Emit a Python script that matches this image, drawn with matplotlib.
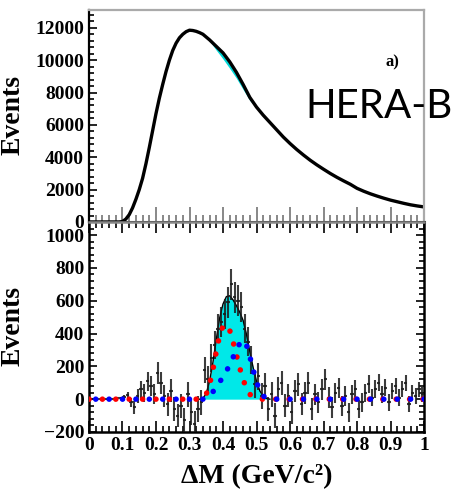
import numpy as np
import matplotlib.pyplot as plt
from matplotlib.ticker import MultipleLocator, AutoMinorLocator

# upper panel: mass spectrum
mass_x = [0.00, 0.02, 0.04, 0.06, 0.08, 0.09, 0.10, 0.11, 0.12, 0.13,
          0.14, 0.15, 0.16, 0.17, 0.18, 0.19, 0.20, 0.21, 0.22, 0.23,
          0.24, 0.25, 0.26, 0.27, 0.28, 0.29, 0.30, 0.31, 0.32, 0.33,
          0.34, 0.36, 0.38, 0.40, 0.42, 0.44, 0.46, 0.48, 0.50, 0.52,
          0.54, 0.56, 0.58, 0.60, 0.62, 0.64, 0.66, 0.68, 0.70, 0.72,
          0.74, 0.76, 0.78, 0.80, 0.82, 0.84, 0.86, 0.88, 0.90, 0.92,
          0.94, 0.96, 0.98, 1.00]
mass_events = [0, 0, 0, 0, 0, 0, 30, 180, 450, 870,
               1400, 2000, 2700, 3600, 4600, 5650, 6700, 7650, 8500, 9300,
               10000, 10600, 11050, 11380, 11600, 11760, 11850, 11830, 11780, 11700,
               11600, 11250, 10850, 10450, 9900, 9250, 8500, 7700, 7100, 6600,
               6150, 5700, 5250, 4850, 4480, 4140, 3820, 3530, 3260, 3000,
               2760, 2540, 2330, 2080, 1900, 1740, 1600, 1470, 1350, 1250,
               1150, 1060, 990, 930]

# signal components (fit), 0.01 GeV steps
sig_x = [0.33, 0.34, 0.35, 0.36, 0.37, 0.38, 0.39, 0.40, 0.41, 0.42, 0.43,
         0.44, 0.45, 0.46, 0.47, 0.48, 0.49, 0.50, 0.51, 0.52, 0.53, 0.54]
sig_red = [0, 5, 30, 90, 180, 290, 390, 445, 455, 420, 350,
           270, 190, 120, 65, 30, 12, 4, 0, 0, 0, 0]
sig_blue = [0, 0, 5, 20, 45, 75, 105, 135, 170, 210, 255,
            300, 340, 360, 330, 260, 180, 105, 50, 20, 5, 0]

# lower panel: background-subtracted events, 100 bins of 0.01
res_x = np.arange(100) * 0.01 + 0.005
res_events = [0, 0, 0, 0, 0, 0, 2, 3, 5, 8,
              15, 25, -20, -50, 20, 60, 40, 110, 80, 30,
              160, 100, 20, -30, 50, -60, -100, -40, -130, 30,
              -80, -150, -60, -20, 180, 120, 250, 330, 430, 470,
              520, 590, 700, 620, 600, 560, 430, 350, 240, 90,
              140, 20, 80, -60, 30, -100, 60, 100, -40, 20,
              -80, 50, 90, -30, 40, 100, -60, 30, -20, 60,
              120, 10, -50, 40, 70, -40, 20, -80, 30, 60,
              -60, -20, 40, 90, 10, 60, 100, 30, 70, -20,
              50, 80, 10, 60, 100, -30, 40, 20, 60, 30]
res_err = [2, 2, 2, 2, 3, 3, 4, 5, 6, 8,
           12, 18, 28, 38, 45, 50, 55, 58, 60, 62,
           65, 66, 68, 70, 70, 72, 72, 74, 74, 75,
           76, 76, 78, 78, 80, 82, 84, 86, 88, 90,
           92, 94, 96, 95, 94, 92, 90, 88, 86, 84,
           82, 80, 78, 76, 75, 74, 73, 72, 71, 70,
           70, 69, 68, 68, 67, 66, 66, 65, 64, 64,
           63, 62, 62, 61, 60, 60, 59, 58, 58, 57,
           56, 56, 55, 55, 54, 54, 53, 52, 52, 51,
           50, 50, 49, 49, 48, 48, 47, 47, 46, 46]

x_labels = ["0", "0.1", "0.2", "0.3", "0.4", "0.5", "0.6", "0.7",
            "0.8", "0.9", "1"]

serif = {"family": "Liberation Serif", "weight": "bold"}

fig = plt.figure(figsize=(4.55, 4.91), dpi=100)
ax1 = fig.add_axes([0.1956, 0.5479, 0.7363, 0.4318])
ax2 = fig.add_axes([0.1956, 0.1202, 0.7363, 0.4277])

sig_x = np.array(sig_x)
sig_tot = np.array(sig_red) + np.array(sig_blue)

# --- upper panel ---
mx = np.array(mass_x)
my = np.array(mass_events, dtype=float)
sel = (mx >= 0.33) & (mx <= 0.54)
sig_on_grid = np.array([sig_tot[np.argmin(abs(sig_x - v))] for v in mx[sel]])
ax1.fill_between(mx[sel], my[sel] - 0.65 * sig_on_grid, my[sel],
                 color="#00d8d8", lw=0)
ax1.plot(mx, my, color="black", lw=2.4, solid_capstyle="round")

ax1.set_xlim(0, 1)
ax1.set_ylim(0, 13100)
ax1.yaxis.set_major_locator(MultipleLocator(2000))
ax1.yaxis.set_minor_locator(AutoMinorLocator(5))
ax1.xaxis.set_major_locator(MultipleLocator(0.1))
ax1.xaxis.set_minor_locator(AutoMinorLocator(5))
ax1.tick_params(axis="x", which="both", direction="in", colors="#888888",
                labelbottom=False, width=1.4)
ax1.tick_params(axis="x", which="major", length=11)
ax1.tick_params(axis="x", which="minor", length=5)
ax1.tick_params(axis="y", which="both", direction="in", width=1.2,
                labelsize=14)
ax1.tick_params(axis="y", which="major", length=6)
ax1.tick_params(axis="y", which="minor", length=3.5)
for lab in ax1.get_yticklabels():
    lab.set_fontproperties(serif)
    lab.set_fontsize(14)
ax1.spines["left"].set_linewidth(1.6)
ax1.spines["bottom"].set_linewidth(2.2)
for s in ("top", "right"):
    ax1.spines[s].set_color("#aaaaaa")
    ax1.spines[s].set_linewidth(1.6)
ax1.set_ylabel("Events", fontsize=20, **serif)
ax1.yaxis.set_label_coords(-0.188, 0.505)
ax1.text(0.905, 0.755, "a)", transform=ax1.transAxes, fontsize=12,
         ha="center", va="center", **serif)

# --- lower panel ---
ax2.fill_between(sig_x, 0, sig_tot, color="#00e8e8", lw=0, zorder=1)
ax2.plot(sig_x, sig_tot, color="black", lw=1.0, zorder=2)
ax2.errorbar(res_x, res_events, yerr=res_err, xerr=0.005, fmt="none",
             ecolor="#1a1a1a", elinewidth=1.5, alpha=0.85, zorder=3)

full_x = np.concatenate([[0.0], sig_x, [1.0]])
red_full = np.concatenate([[0], sig_red, [0]])
blue_full = np.concatenate([[0], sig_blue, [0]])
ax2.plot(full_x, red_full, color="red", lw=4.0,
         linestyle=(0, (0.01, 2.4)), dash_capstyle="round", zorder=4)
ax2.plot(full_x, blue_full, color="blue", lw=4.0,
         linestyle=(1.2, (0.01, 2.4)), dash_capstyle="round", zorder=4)

ax2.set_xlim(0, 1)
ax2.set_ylim(-200, 1080)
ax2.yaxis.set_major_locator(MultipleLocator(200))
ax2.yaxis.set_minor_locator(AutoMinorLocator(5))
ax2.xaxis.set_minor_locator(AutoMinorLocator(5))
ax2.tick_params(axis="both", which="both", direction="in", top=True,
                right=True, width=1.2, labelsize=14)
ax2.tick_params(axis="x", which="major", length=8)
ax2.tick_params(axis="x", which="minor", length=4)
ax2.tick_params(axis="y", which="major", length=6)
ax2.tick_params(axis="y", which="minor", length=3.5)
ax2.set_xticks(np.linspace(0, 1, 11))
ax2.set_xticklabels(x_labels)
for lab in ax2.get_xticklabels() + ax2.get_yticklabels():
    lab.set_fontproperties(serif)
    lab.set_fontsize(14)
for s in ax2.spines.values():
    s.set_linewidth(1.8)
ax2.spines["top"].set_color("#888888")
ax2.set_ylabel("Events", fontsize=20, **serif)
ax2.yaxis.set_label_coords(-0.188, 0.505)
ax2.set_xlabel("\u0394M (GeV/c\u00b2)", fontsize=20, **serif)
ax2.xaxis.set_label_coords(0.50, -0.155)

fig.text(305 / 455, 1 - 107 / 491, "HERA-B", fontsize=29, family="Lato",
         ha="left", va="center")

fig.savefig("out.png", dpi=100)
